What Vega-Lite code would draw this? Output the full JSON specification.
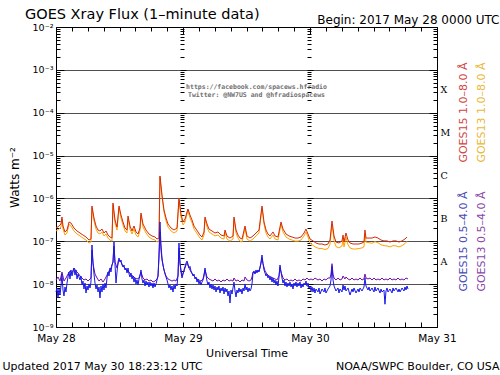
{
  "$schema": "https://vega.github.io/schema/vega-lite/v6.json",
  "width": 381,
  "height": 300,
  "autosize": "none",
  "padding": {"left": 56, "top": 27, "right": 63, "bottom": 48},
  "background": "white",
  "title": {"text": "GOES Xray Flux (1–minute data)", "anchor": "start", "frame": "group", "offset": 7, "dx": -31, "dy": 41, "baseline": "alphabetic", "fontSize": 14.5, "font": "DejaVu Sans", "fontWeight": "normal", "color": "#000"},
  "config": {
    "view": {"stroke": null},
    "font": "DejaVu Sans",
    "axis": {"labelFont": "DejaVu Sans", "titleFont": "DejaVu Sans", "titleFontWeight": "normal", "labelColor": "#000", "titleColor": "#000", "tickColor": "#000", "domainColor": "#000", "grid": false}
  },
  "datasets": {
    "goes15_long": [{"h":0,"v":2.04e-7},{"h":0.57,"v":2.27e-7},{"h":0.94,"v":2.53e-7},{"h":1.13,"v":3.69e-7},{"h":1.32,"v":2.27e-7},{"h":1.7,"v":1.65e-7},{"h":2.08,"v":1.83e-7},{"h":2.46,"v":2.82e-7},{"h":2.83,"v":2.67e-7},{"h":3.4,"v":2.04e-7},{"h":3.97,"v":1.74e-7},{"h":4.54,"v":1.56e-7},{"h":5.1,"v":1.4e-7},{"h":5.67,"v":1.26e-7},{"h":6.24,"v":1.07e-7},{"h":6.61,"v":1.13e-7},{"h":6.8,"v":6.66e-7},{"h":7.18,"v":3.49e-7},{"h":7.56,"v":2.27e-7},{"h":7.94,"v":1.83e-7},{"h":8.31,"v":1.74e-7},{"h":8.69,"v":1.93e-7},{"h":9.07,"v":1.56e-7},{"h":9.45,"v":1.74e-7},{"h":9.83,"v":1.4e-7},{"h":10.2,"v":1.26e-7},{"h":10.58,"v":1.19e-7},{"h":10.77,"v":7.82e-7},{"h":11.15,"v":3.14e-7},{"h":11.53,"v":2.15e-7},{"h":11.91,"v":6.66e-7},{"h":12.28,"v":4.1e-7},{"h":12.66,"v":2.82e-7},{"h":13.04,"v":2.04e-7},{"h":13.42,"v":1.83e-7},{"h":13.61,"v":3.89e-7},{"h":13.98,"v":2.27e-7},{"h":14.36,"v":1.74e-7},{"h":14.74,"v":2.27e-7},{"h":15.12,"v":1.65e-7},{"h":15.5,"v":1.48e-7},{"h":15.87,"v":2.04e-7},{"h":16.06,"v":4.57e-7},{"h":16.44,"v":2.53e-7},{"h":17.01,"v":1.83e-7},{"h":17.57,"v":1.48e-7},{"h":18.14,"v":1.33e-7},{"h":18.71,"v":1.26e-7},{"h":19.09,"v":1.13e-7},{"h":19.46,"v":1.19e-7},{"h":19.65,"v":3.34e-6},{"h":20.03,"v":1.2e-6},{"h":20.41,"v":5.37e-7},{"h":20.79,"v":3.49e-7},{"h":21.17,"v":2.53e-7},{"h":21.73,"v":2.04e-7},{"h":22.3,"v":1.83e-7},{"h":22.87,"v":2.04e-7},{"h":23.24,"v":1.02e-6},{"h":23.62,"v":4.33e-7},{"h":24,"v":2.82e-7},{"h":24.38,"v":3.31e-7},{"h":24.76,"v":4.82e-7},{"h":24.94,"v":5.67e-7},{"h":25.32,"v":4.1e-7},{"h":25.7,"v":3.14e-7},{"h":26.08,"v":2.27e-7},{"h":26.46,"v":1.93e-7},{"h":26.83,"v":1.65e-7},{"h":27.21,"v":1.4e-7},{"h":27.59,"v":1.26e-7},{"h":27.97,"v":1.65e-7},{"h":28.16,"v":3.69e-7},{"h":28.54,"v":2.53e-7},{"h":28.91,"v":1.93e-7},{"h":29.48,"v":1.74e-7},{"h":30.05,"v":1.56e-7},{"h":30.61,"v":1.65e-7},{"h":31.18,"v":1.4e-7},{"h":31.75,"v":1.33e-7},{"h":31.94,"v":1.83e-7},{"h":32.31,"v":1.33e-7},{"h":32.88,"v":1.19e-7},{"h":33.45,"v":1.33e-7},{"h":33.64,"v":3.69e-7},{"h":34.02,"v":1.83e-7},{"h":34.39,"v":1.4e-7},{"h":34.77,"v":1.19e-7},{"h":35.15,"v":1.13e-7},{"h":35.72,"v":2.27e-7},{"h":36.09,"v":1.33e-7},{"h":36.66,"v":1.19e-7},{"h":37.23,"v":1.33e-7},{"h":37.8,"v":1.56e-7},{"h":38.36,"v":1.83e-7},{"h":38.93,"v":6.66e-7},{"h":39.31,"v":2.82e-7},{"h":39.69,"v":1.83e-7},{"h":40.06,"v":1.48e-7},{"h":40.44,"v":1.33e-7},{"h":41.01,"v":1.65e-7},{"h":41.39,"v":1.33e-7},{"h":41.95,"v":1.26e-7},{"h":42.52,"v":2.82e-7},{"h":42.9,"v":1.93e-7},{"h":43.46,"v":1.48e-7},{"h":44.03,"v":1.33e-7},{"h":44.6,"v":1.26e-7},{"h":45.17,"v":1.19e-7},{"h":45.73,"v":1.19e-7},{"h":46.3,"v":1.26e-7},{"h":46.87,"v":1.56e-7},{"h":47.24,"v":1.93e-7},{"h":47.62,"v":1.48e-7},{"h":48,"v":1.13e-7},{"h":48.57,"v":1.02e-7},{"h":49.13,"v":9.12e-8},{"h":49.7,"v":8.64e-8},{"h":50.27,"v":8.64e-8},{"h":50.83,"v":8.19e-8},{"h":51.4,"v":8.64e-8},{"h":51.78,"v":1.07e-7},{"h":52.16,"v":2.97e-7},{"h":52.54,"v":1.33e-7},{"h":52.91,"v":9.62e-8},{"h":53.48,"v":9.12e-8},{"h":54.05,"v":1.02e-7},{"h":54.24,"v":1.4e-7},{"h":54.43,"v":9.62e-8},{"h":54.8,"v":1.56e-7},{"h":55.18,"v":1.07e-7},{"h":55.56,"v":9.12e-8},{"h":56.13,"v":8.64e-8},{"h":56.69,"v":8.64e-8},{"h":57.26,"v":8.64e-8},{"h":57.83,"v":9.12e-8},{"h":58.2,"v":9.62e-8},{"h":58.39,"v":1.83e-7},{"h":58.58,"v":1.19e-7},{"h":59.15,"v":1.19e-7},{"h":59.72,"v":1.19e-7},{"h":60.28,"v":1.26e-7},{"h":60.85,"v":1.19e-7},{"h":61.42,"v":1.07e-7},{"h":61.98,"v":1.02e-7},{"h":62.55,"v":1.02e-7},{"h":63.12,"v":9.62e-8},{"h":63.69,"v":1.02e-7},{"h":64.25,"v":1.02e-7},{"h":64.82,"v":9.62e-8},{"h":65.39,"v":1.02e-7},{"h":65.95,"v":1.13e-7},{"h":66.33,"v":1.26e-7}],
    "goes13_long": [{"h":0,"v":1.74e-7},{"h":0.57,"v":1.93e-7},{"h":0.94,"v":2.15e-7},{"h":1.13,"v":3.3e-7},{"h":1.32,"v":1.93e-7},{"h":1.7,"v":1.4e-7},{"h":2.08,"v":1.56e-7},{"h":2.46,"v":2.5e-7},{"h":2.83,"v":2.27e-7},{"h":3.4,"v":1.74e-7},{"h":3.97,"v":1.48e-7},{"h":4.54,"v":1.33e-7},{"h":5.1,"v":1.19e-7},{"h":5.67,"v":1.07e-7},{"h":6.24,"v":9.1e-8},{"h":6.61,"v":9.6e-8},{"h":6.8,"v":6.0e-7},{"h":7.18,"v":3.0e-7},{"h":7.56,"v":1.93e-7},{"h":7.94,"v":1.56e-7},{"h":8.31,"v":1.48e-7},{"h":8.69,"v":1.65e-7},{"h":9.07,"v":1.33e-7},{"h":9.45,"v":1.48e-7},{"h":9.83,"v":1.19e-7},{"h":10.2,"v":1.07e-7},{"h":10.58,"v":1.01e-7},{"h":10.77,"v":7.0e-7},{"h":11.15,"v":2.7e-7},{"h":11.53,"v":1.83e-7},{"h":11.91,"v":6.0e-7},{"h":12.28,"v":3.5e-7},{"h":12.66,"v":2.4e-7},{"h":13.04,"v":1.74e-7},{"h":13.42,"v":1.56e-7},{"h":13.61,"v":3.4e-7},{"h":13.98,"v":1.93e-7},{"h":14.36,"v":1.48e-7},{"h":14.74,"v":1.93e-7},{"h":15.12,"v":1.4e-7},{"h":15.5,"v":1.26e-7},{"h":15.87,"v":1.74e-7},{"h":16.06,"v":4.1e-7},{"h":16.44,"v":2.15e-7},{"h":17.01,"v":1.56e-7},{"h":17.57,"v":1.26e-7},{"h":18.14,"v":1.13e-7},{"h":18.71,"v":1.07e-7},{"h":19.09,"v":9.6e-8},{"h":19.46,"v":1.01e-7},{"h":19.65,"v":3.1e-6},{"h":20.03,"v":1.1e-6},{"h":20.41,"v":4.8e-7},{"h":20.79,"v":3.0e-7},{"h":21.17,"v":2.15e-7},{"h":21.73,"v":1.74e-7},{"h":22.3,"v":1.56e-7},{"h":22.87,"v":1.74e-7},{"h":23.24,"v":9.2e-7},{"h":23.62,"v":3.7e-7},{"h":24,"v":2.4e-7},{"h":24.38,"v":2.8e-7},{"h":24.76,"v":4.3e-7},{"h":24.94,"v":5.1e-7},{"h":25.32,"v":3.5e-7},{"h":25.7,"v":2.7e-7},{"h":26.08,"v":1.93e-7},{"h":26.46,"v":1.65e-7},{"h":26.83,"v":1.4e-7},{"h":27.21,"v":1.19e-7},{"h":27.59,"v":1.07e-7},{"h":27.97,"v":1.4e-7},{"h":28.16,"v":3.3e-7},{"h":28.54,"v":2.15e-7},{"h":28.91,"v":1.65e-7},{"h":29.48,"v":1.48e-7},{"h":30.05,"v":1.33e-7},{"h":30.61,"v":1.4e-7},{"h":31.18,"v":1.19e-7},{"h":31.75,"v":1.13e-7},{"h":31.94,"v":1.6e-7},{"h":32.31,"v":1.13e-7},{"h":32.88,"v":1.01e-7},{"h":33.45,"v":1.13e-7},{"h":33.64,"v":3.3e-7},{"h":34.02,"v":1.56e-7},{"h":34.39,"v":1.19e-7},{"h":34.77,"v":1.01e-7},{"h":35.15,"v":9.6e-8},{"h":35.72,"v":2.0e-7},{"h":36.09,"v":1.13e-7},{"h":36.66,"v":1.01e-7},{"h":37.23,"v":1.13e-7},{"h":37.8,"v":1.33e-7},{"h":38.36,"v":1.56e-7},{"h":38.93,"v":6.0e-7},{"h":39.31,"v":2.5e-7},{"h":39.69,"v":1.56e-7},{"h":40.06,"v":1.26e-7},{"h":40.44,"v":1.13e-7},{"h":41.01,"v":1.4e-7},{"h":41.39,"v":1.13e-7},{"h":41.95,"v":1.07e-7},{"h":42.52,"v":2.5e-7},{"h":42.9,"v":1.65e-7},{"h":43.46,"v":1.26e-7},{"h":44.03,"v":1.13e-7},{"h":44.6,"v":1.07e-7},{"h":45.17,"v":1.01e-7},{"h":45.73,"v":1.01e-7},{"h":46.3,"v":1.07e-7},{"h":46.87,"v":1.33e-7},{"h":47.24,"v":1.65e-7},{"h":47.62,"v":1.26e-7},{"h":48,"v":9.1e-8},{"h":48.57,"v":8.0e-8},{"h":49.13,"v":7.2e-8},{"h":49.7,"v":6.8e-8},{"h":50.27,"v":6.8e-8},{"h":50.83,"v":6.4e-8},{"h":51.4,"v":6.8e-8},{"h":51.78,"v":8.5e-8},{"h":52.16,"v":2.5e-7},{"h":52.54,"v":1.05e-7},{"h":52.91,"v":7.5e-8},{"h":53.48,"v":7.0e-8},{"h":54.05,"v":7.8e-8},{"h":54.24,"v":1.1e-7},{"h":54.43,"v":7.4e-8},{"h":54.8,"v":1.25e-7},{"h":55.18,"v":8.3e-8},{"h":55.56,"v":7.0e-8},{"h":56.13,"v":6.6e-8},{"h":56.69,"v":6.6e-8},{"h":57.26,"v":6.8e-8},{"h":57.83,"v":7.0e-8},{"h":58.2,"v":7.4e-8},{"h":58.39,"v":1.5e-7},{"h":58.58,"v":9.5e-8},{"h":59.15,"v":9.3e-8},{"h":59.72,"v":9.0e-8},{"h":60.28,"v":9.8e-8},{"h":60.85,"v":9.2e-8},{"h":61.42,"v":8.3e-8},{"h":61.98,"v":7.9e-8},{"h":62.55,"v":7.8e-8},{"h":63.12,"v":7.4e-8},{"h":63.69,"v":7.9e-8},{"h":64.25,"v":7.8e-8},{"h":64.82,"v":7.4e-8},{"h":65.39,"v":7.9e-8},{"h":65.95,"v":8.8e-8},{"h":66.33,"v":1.0e-7}],
    "goes15_short": [{"h":0,"v":6.56e-9},{"h":0.19,"v":8.13e-9},{"h":0.38,"v":4.75e-9},{"h":0.57,"v":7.7e-9},{"h":0.76,"v":5.58e-9},{"h":0.94,"v":9.05e-9},{"h":1.13,"v":1.72e-8},{"h":1.32,"v":7.3e-9},{"h":1.51,"v":5.29e-9},{"h":1.7,"v":8.58e-9},{"h":1.89,"v":6.56e-9},{"h":2.08,"v":1.06e-8},{"h":2.27,"v":1.47e-8},{"h":2.46,"v":1.92e-8},{"h":2.65,"v":1.32e-8},{"h":2.83,"v":2.14e-8},{"h":3.02,"v":1.55e-8},{"h":3.4,"v":2.38e-8},{"h":3.59,"v":1.63e-8},{"h":3.78,"v":2.14e-8},{"h":3.97,"v":1.32e-8},{"h":4.16,"v":1.72e-8},{"h":4.54,"v":1.25e-8},{"h":4.72,"v":1.55e-8},{"h":4.91,"v":9.55e-9},{"h":5.1,"v":1.18e-8},{"h":5.29,"v":7.7e-9},{"h":5.48,"v":1.06e-8},{"h":5.67,"v":6.21e-9},{"h":5.86,"v":9.05e-9},{"h":6.05,"v":7.3e-9},{"h":6.24,"v":1.01e-8},{"h":6.43,"v":8.13e-9},{"h":6.61,"v":1.12e-8},{"h":6.8,"v":8.19e-8},{"h":6.99,"v":3.29e-8},{"h":7.18,"v":1.72e-8},{"h":7.37,"v":1.06e-8},{"h":7.56,"v":7.7e-9},{"h":7.75,"v":9.55e-9},{"h":7.94,"v":6.56e-9},{"h":8.13,"v":8.58e-9},{"h":8.31,"v":4.75e-9},{"h":8.5,"v":9.05e-9},{"h":8.69,"v":6.56e-9},{"h":8.88,"v":1.01e-8},{"h":9.07,"v":7.3e-9},{"h":9.26,"v":1.06e-8},{"h":9.45,"v":8.13e-9},{"h":9.64,"v":1.39e-8},{"h":9.83,"v":1.92e-8},{"h":10.02,"v":1.55e-8},{"h":10.2,"v":2.38e-8},{"h":10.39,"v":1.92e-8},{"h":10.58,"v":2.8e-8},{"h":10.77,"v":3.29e-8},{"h":10.96,"v":9.62e-8},{"h":11.15,"v":2.8e-8},{"h":11.34,"v":1.06e-8},{"h":11.53,"v":1.92e-8},{"h":11.72,"v":3.29e-8},{"h":11.91,"v":4.07e-8},{"h":12.09,"v":3.29e-8},{"h":12.28,"v":3.66e-8},{"h":12.47,"v":2.8e-8},{"h":12.66,"v":2.51e-8},{"h":12.85,"v":2.8e-8},{"h":13.04,"v":2.14e-8},{"h":13.23,"v":2.38e-8},{"h":13.42,"v":1.82e-8},{"h":13.61,"v":2.38e-8},{"h":13.8,"v":1.72e-8},{"h":13.98,"v":1.47e-8},{"h":14.17,"v":1.82e-8},{"h":14.36,"v":1.32e-8},{"h":14.55,"v":1.55e-8},{"h":14.74,"v":1.12e-8},{"h":14.93,"v":1.39e-8},{"h":15.12,"v":1.01e-8},{"h":15.31,"v":1.25e-8},{"h":15.5,"v":9.55e-9},{"h":15.69,"v":1.32e-8},{"h":15.87,"v":1.55e-8},{"h":16.06,"v":2.14e-8},{"h":16.25,"v":1.32e-8},{"h":16.44,"v":1.06e-8},{"h":16.63,"v":1.25e-8},{"h":16.82,"v":9.05e-9},{"h":17.01,"v":1.18e-8},{"h":17.2,"v":9.55e-9},{"h":17.39,"v":1.12e-8},{"h":17.57,"v":8.58e-9},{"h":17.76,"v":1.12e-8},{"h":17.95,"v":9.05e-9},{"h":18.14,"v":1.06e-8},{"h":18.33,"v":8.13e-9},{"h":18.52,"v":1.06e-8},{"h":18.71,"v":8.58e-9},{"h":18.9,"v":1.01e-8},{"h":19.09,"v":1.25e-8},{"h":19.28,"v":1.55e-8},{"h":19.46,"v":4.79e-8},{"h":19.65,"v":2.82e-7},{"h":19.84,"v":8.19e-8},{"h":20.03,"v":4.07e-8},{"h":20.22,"v":2.8e-8},{"h":20.41,"v":2.14e-8},{"h":20.6,"v":1.72e-8},{"h":20.79,"v":1.47e-8},{"h":20.98,"v":1.25e-8},{"h":21.17,"v":1.01e-8},{"h":21.35,"v":8.13e-9},{"h":21.54,"v":9.55e-9},{"h":21.73,"v":7.3e-9},{"h":21.92,"v":9.05e-9},{"h":22.11,"v":6.56e-9},{"h":22.3,"v":9.55e-9},{"h":22.49,"v":7.7e-9},{"h":22.68,"v":1.01e-8},{"h":22.87,"v":9.05e-9},{"h":23.06,"v":1.63e-8},{"h":23.24,"v":9.12e-8},{"h":23.43,"v":3.29e-8},{"h":23.62,"v":1.92e-8},{"h":23.81,"v":1.39e-8},{"h":24,"v":1.72e-8},{"h":24.19,"v":2.14e-8},{"h":24.38,"v":2.6e-8},{"h":24.57,"v":3.1e-8},{"h":24.76,"v":3.47e-8},{"h":24.94,"v":2.95e-8},{"h":25.13,"v":2.38e-8},{"h":25.32,"v":2.6e-8},{"h":25.51,"v":2.03e-8},{"h":25.7,"v":1.82e-8},{"h":25.89,"v":1.55e-8},{"h":26.08,"v":1.72e-8},{"h":26.27,"v":1.32e-8},{"h":26.46,"v":1.47e-8},{"h":26.65,"v":1.12e-8},{"h":26.83,"v":1.32e-8},{"h":27.02,"v":1.01e-8},{"h":27.21,"v":1.18e-8},{"h":27.4,"v":9.55e-9},{"h":27.59,"v":1.12e-8},{"h":27.78,"v":1.25e-8},{"h":27.97,"v":1.55e-8},{"h":28.16,"v":2.38e-8},{"h":28.35,"v":1.63e-8},{"h":28.54,"v":1.18e-8},{"h":28.72,"v":9.55e-9},{"h":28.91,"v":1.12e-8},{"h":29.1,"v":8.13e-9},{"h":29.29,"v":1.01e-8},{"h":29.48,"v":7.7e-9},{"h":29.67,"v":9.55e-9},{"h":29.86,"v":7.3e-9},{"h":30.05,"v":9.05e-9},{"h":30.24,"v":6.56e-9},{"h":30.43,"v":8.58e-9},{"h":30.61,"v":7.3e-9},{"h":30.8,"v":9.05e-9},{"h":30.99,"v":6.21e-9},{"h":31.18,"v":8.13e-9},{"h":31.37,"v":6.92e-9},{"h":31.56,"v":8.58e-9},{"h":31.75,"v":5.89e-9},{"h":31.94,"v":8.13e-9},{"h":32.13,"v":6.56e-9},{"h":32.31,"v":7.7e-9},{"h":32.5,"v":5.29e-9},{"h":32.69,"v":6.92e-9},{"h":32.88,"v":3.63e-9},{"h":33.07,"v":7.3e-9},{"h":33.26,"v":5.89e-9},{"h":33.45,"v":8.13e-9},{"h":33.64,"v":1.12e-8},{"h":33.83,"v":6.92e-9},{"h":34.02,"v":5.01e-9},{"h":34.2,"v":7.3e-9},{"h":34.39,"v":6.21e-9},{"h":34.58,"v":8.13e-9},{"h":34.77,"v":6.56e-9},{"h":34.96,"v":7.7e-9},{"h":35.15,"v":5.89e-9},{"h":35.34,"v":8.13e-9},{"h":35.53,"v":6.92e-9},{"h":35.72,"v":1.01e-8},{"h":35.91,"v":7.3e-9},{"h":36.09,"v":8.58e-9},{"h":36.28,"v":6.56e-9},{"h":36.47,"v":8.13e-9},{"h":36.66,"v":6.92e-9},{"h":36.85,"v":7.7e-9},{"h":37.04,"v":1.01e-8},{"h":37.23,"v":1.82e-8},{"h":37.42,"v":2.03e-8},{"h":37.61,"v":1.72e-8},{"h":37.8,"v":2.14e-8},{"h":37.98,"v":1.82e-8},{"h":38.17,"v":2.14e-8},{"h":38.36,"v":1.92e-8},{"h":38.55,"v":2.38e-8},{"h":38.74,"v":3.29e-8},{"h":38.93,"v":4.79e-8},{"h":39.12,"v":3.0e-8},{"h":39.31,"v":2.14e-8},{"h":39.5,"v":1.82e-8},{"h":39.69,"v":1.55e-8},{"h":39.87,"v":1.72e-8},{"h":40.06,"v":1.39e-8},{"h":40.25,"v":1.55e-8},{"h":40.44,"v":1.25e-8},{"h":40.63,"v":1.47e-8},{"h":40.82,"v":1.12e-8},{"h":41.01,"v":1.39e-8},{"h":41.2,"v":1.06e-8},{"h":41.39,"v":1.25e-8},{"h":41.57,"v":9.55e-9},{"h":41.76,"v":1.18e-8},{"h":41.95,"v":9.05e-9},{"h":42.14,"v":1.47e-8},{"h":42.33,"v":2.8e-8},{"h":42.52,"v":1.92e-8},{"h":42.71,"v":1.39e-8},{"h":42.9,"v":1.06e-8},{"h":43.09,"v":1.25e-8},{"h":43.28,"v":9.05e-9},{"h":43.46,"v":1.12e-8},{"h":43.65,"v":8.58e-9},{"h":43.84,"v":1.06e-8},{"h":44.03,"v":9.05e-9},{"h":44.22,"v":1.12e-8},{"h":44.41,"v":8.58e-9},{"h":44.6,"v":1.01e-8},{"h":44.79,"v":7.7e-9},{"h":44.98,"v":1.06e-8},{"h":45.17,"v":9.05e-9},{"h":45.35,"v":1.12e-8},{"h":45.54,"v":8.58e-9},{"h":45.73,"v":1.06e-8},{"h":45.92,"v":9.05e-9},{"h":46.11,"v":1.12e-8},{"h":46.3,"v":8.13e-9},{"h":46.49,"v":1.01e-8},{"h":46.68,"v":8.58e-9},{"h":46.87,"v":1.06e-8},{"h":47.06,"v":9.55e-9},{"h":47.24,"v":1.18e-8},{"h":47.43,"v":9.05e-9},{"h":47.62,"v":1.06e-8},{"h":47.81,"v":8.13e-9},{"h":48,"v":9.05e-9},{"h":48.19,"v":6.92e-9},{"h":48.38,"v":8.58e-9},{"h":48.57,"v":6.56e-9},{"h":48.76,"v":8.13e-9},{"h":48.94,"v":6.21e-9},{"h":49.13,"v":7.7e-9},{"h":49.51,"v":6.56e-9},{"h":49.7,"v":8.13e-9},{"h":49.89,"v":5.89e-9},{"h":50.27,"v":7.7e-9},{"h":50.65,"v":6.56e-9},{"h":50.83,"v":8.13e-9},{"h":51.02,"v":6.21e-9},{"h":51.4,"v":7.7e-9},{"h":51.78,"v":9.05e-9},{"h":51.97,"v":1.25e-8},{"h":52.16,"v":2.6e-8},{"h":52.35,"v":1.25e-8},{"h":52.54,"v":9.05e-9},{"h":52.91,"v":6.92e-9},{"h":53.29,"v":8.13e-9},{"h":53.48,"v":6.21e-9},{"h":53.67,"v":7.7e-9},{"h":54.05,"v":6.56e-9},{"h":54.24,"v":9.55e-9},{"h":54.43,"v":7.3e-9},{"h":54.61,"v":9.05e-9},{"h":54.8,"v":6.92e-9},{"h":55.18,"v":8.13e-9},{"h":55.56,"v":5.58e-9},{"h":55.94,"v":7.7e-9},{"h":56.13,"v":6.56e-9},{"h":56.31,"v":8.13e-9},{"h":56.69,"v":6.21e-9},{"h":57.07,"v":7.7e-9},{"h":57.26,"v":6.56e-9},{"h":57.45,"v":8.13e-9},{"h":57.83,"v":6.92e-9},{"h":58.2,"v":8.58e-9},{"h":58.39,"v":1.39e-8},{"h":58.58,"v":9.05e-9},{"h":58.96,"v":7.3e-9},{"h":59.15,"v":8.58e-9},{"h":59.34,"v":6.92e-9},{"h":59.72,"v":8.13e-9},{"h":60.09,"v":6.56e-9},{"h":60.28,"v":8.58e-9},{"h":60.47,"v":6.92e-9},{"h":60.85,"v":8.13e-9},{"h":61.23,"v":6.21e-9},{"h":61.42,"v":7.7e-9},{"h":61.61,"v":6.56e-9},{"h":61.98,"v":7.3e-9},{"h":62.17,"v":3.4e-9},{"h":62.36,"v":6.92e-9},{"h":62.55,"v":8.13e-9},{"h":62.74,"v":6.56e-9},{"h":63.12,"v":7.7e-9},{"h":63.5,"v":6.21e-9},{"h":63.69,"v":8.13e-9},{"h":63.87,"v":6.92e-9},{"h":64.25,"v":8.13e-9},{"h":64.63,"v":6.56e-9},{"h":64.82,"v":7.7e-9},{"h":65.01,"v":6.56e-9},{"h":65.39,"v":8.13e-9},{"h":65.76,"v":6.92e-9},{"h":65.95,"v":8.58e-9},{"h":66.14,"v":7.3e-9},{"h":66.33,"v":9.05e-9},{"h":66.52,"v":7.7e-9}],
    "goes13_short": [{"h":0,"v":1.25e-8},{"h":0.38,"v":1.47e-8},{"h":0.76,"v":1.18e-8},{"h":1.13,"v":1.92e-8},{"h":1.51,"v":1.18e-8},{"h":1.89,"v":1.39e-8},{"h":2.27,"v":1.72e-8},{"h":2.65,"v":2.03e-8},{"h":3.02,"v":1.82e-8},{"h":3.4,"v":2.38e-8},{"h":3.78,"v":2.03e-8},{"h":4.16,"v":1.82e-8},{"h":4.54,"v":1.55e-8},{"h":4.91,"v":1.39e-8},{"h":5.29,"v":1.25e-8},{"h":5.67,"v":1.32e-8},{"h":6.05,"v":1.18e-8},{"h":6.43,"v":1.32e-8},{"h":6.61,"v":1.39e-8},{"h":6.8,"v":6.26e-8},{"h":6.99,"v":3.0e-8},{"h":7.37,"v":1.72e-8},{"h":7.75,"v":1.39e-8},{"h":8.13,"v":1.18e-8},{"h":8.5,"v":1.32e-8},{"h":8.88,"v":1.12e-8},{"h":9.26,"v":1.32e-8},{"h":9.64,"v":1.63e-8},{"h":10.02,"v":2.03e-8},{"h":10.39,"v":2.38e-8},{"h":10.77,"v":3.29e-8},{"h":10.96,"v":7.76e-8},{"h":11.15,"v":3.29e-8},{"h":11.53,"v":2.38e-8},{"h":11.91,"v":3.66e-8},{"h":12.28,"v":3.29e-8},{"h":12.66,"v":2.6e-8},{"h":13.04,"v":2.38e-8},{"h":13.42,"v":2.03e-8},{"h":13.8,"v":1.92e-8},{"h":14.17,"v":1.63e-8},{"h":14.55,"v":1.55e-8},{"h":14.93,"v":1.39e-8},{"h":15.31,"v":1.32e-8},{"h":15.69,"v":1.39e-8},{"h":16.06,"v":1.92e-8},{"h":16.44,"v":1.39e-8},{"h":16.82,"v":1.25e-8},{"h":17.2,"v":1.32e-8},{"h":17.57,"v":1.18e-8},{"h":17.95,"v":1.25e-8},{"h":18.33,"v":1.12e-8},{"h":18.71,"v":1.18e-8},{"h":19.09,"v":1.32e-8},{"h":19.28,"v":1.55e-8},{"h":19.46,"v":4.07e-8},{"h":19.65,"v":1.65e-7},{"h":19.84,"v":6.26e-8},{"h":20.03,"v":3.66e-8},{"h":20.41,"v":2.14e-8},{"h":20.79,"v":1.55e-8},{"h":21.17,"v":1.32e-8},{"h":21.54,"v":1.25e-8},{"h":21.92,"v":1.18e-8},{"h":22.3,"v":1.25e-8},{"h":22.68,"v":1.18e-8},{"h":23.06,"v":1.55e-8},{"h":23.24,"v":6.97e-8},{"h":23.43,"v":3.0e-8},{"h":23.81,"v":1.55e-8},{"h":24.19,"v":2.03e-8},{"h":24.57,"v":2.8e-8},{"h":24.76,"v":3.1e-8},{"h":25.13,"v":2.38e-8},{"h":25.51,"v":1.92e-8},{"h":25.89,"v":1.63e-8},{"h":26.27,"v":1.47e-8},{"h":26.65,"v":1.32e-8},{"h":27.02,"v":1.25e-8},{"h":27.4,"v":1.18e-8},{"h":27.78,"v":1.32e-8},{"h":28.16,"v":2.14e-8},{"h":28.54,"v":1.47e-8},{"h":28.91,"v":1.32e-8},{"h":29.29,"v":1.25e-8},{"h":29.67,"v":1.18e-8},{"h":30.05,"v":1.32e-8},{"h":30.43,"v":1.18e-8},{"h":30.8,"v":1.25e-8},{"h":31.18,"v":1.12e-8},{"h":31.56,"v":1.25e-8},{"h":31.94,"v":1.18e-8},{"h":32.31,"v":1.32e-8},{"h":32.69,"v":1.18e-8},{"h":33.07,"v":1.25e-8},{"h":33.45,"v":1.18e-8},{"h":33.64,"v":1.39e-8},{"h":34.02,"v":1.18e-8},{"h":34.39,"v":1.25e-8},{"h":34.77,"v":1.12e-8},{"h":35.15,"v":1.25e-8},{"h":35.53,"v":1.18e-8},{"h":35.72,"v":1.47e-8},{"h":36.09,"v":1.25e-8},{"h":36.47,"v":1.18e-8},{"h":36.85,"v":1.25e-8},{"h":37.04,"v":1.47e-8},{"h":37.23,"v":1.92e-8},{"h":37.61,"v":1.82e-8},{"h":37.98,"v":2.03e-8},{"h":38.36,"v":2.03e-8},{"h":38.74,"v":3.0e-8},{"h":38.93,"v":4.07e-8},{"h":39.12,"v":3.0e-8},{"h":39.5,"v":2.03e-8},{"h":39.87,"v":1.72e-8},{"h":40.25,"v":1.55e-8},{"h":40.63,"v":1.47e-8},{"h":41.01,"v":1.39e-8},{"h":41.39,"v":1.32e-8},{"h":41.76,"v":1.25e-8},{"h":42.14,"v":1.55e-8},{"h":42.33,"v":2.51e-8},{"h":42.52,"v":1.92e-8},{"h":42.9,"v":1.39e-8},{"h":43.28,"v":1.25e-8},{"h":43.65,"v":1.32e-8},{"h":44.03,"v":1.18e-8},{"h":44.41,"v":1.25e-8},{"h":44.79,"v":1.18e-8},{"h":45.17,"v":1.32e-8},{"h":45.54,"v":1.18e-8},{"h":45.92,"v":1.25e-8},{"h":46.3,"v":1.18e-8},{"h":46.68,"v":1.32e-8},{"h":47.06,"v":1.25e-8},{"h":47.43,"v":1.39e-8},{"h":47.81,"v":1.25e-8},{"h":48.19,"v":1.32e-8},{"h":48.57,"v":1.25e-8},{"h":48.94,"v":1.39e-8},{"h":49.51,"v":1.25e-8},{"h":49.89,"v":1.32e-8},{"h":50.27,"v":1.18e-8},{"h":50.65,"v":1.32e-8},{"h":51.02,"v":1.25e-8},{"h":51.4,"v":1.39e-8},{"h":51.78,"v":1.39e-8},{"h":51.97,"v":1.72e-8},{"h":52.16,"v":3.0e-8},{"h":52.35,"v":1.72e-8},{"h":52.54,"v":1.39e-8},{"h":52.91,"v":1.25e-8},{"h":53.29,"v":1.39e-8},{"h":53.67,"v":1.25e-8},{"h":54.05,"v":1.32e-8},{"h":54.24,"v":1.55e-8},{"h":54.61,"v":1.32e-8},{"h":54.8,"v":1.47e-8},{"h":55.18,"v":1.32e-8},{"h":55.56,"v":1.25e-8},{"h":55.94,"v":1.39e-8},{"h":56.31,"v":1.25e-8},{"h":56.69,"v":1.32e-8},{"h":57.07,"v":1.25e-8},{"h":57.45,"v":1.39e-8},{"h":57.83,"v":1.25e-8},{"h":58.2,"v":1.32e-8},{"h":58.39,"v":1.72e-8},{"h":58.58,"v":1.39e-8},{"h":58.96,"v":1.32e-8},{"h":59.34,"v":1.39e-8},{"h":59.72,"v":1.25e-8},{"h":60.09,"v":1.39e-8},{"h":60.47,"v":1.25e-8},{"h":60.85,"v":1.32e-8},{"h":61.23,"v":1.25e-8},{"h":61.61,"v":1.39e-8},{"h":61.98,"v":1.25e-8},{"h":62.36,"v":1.32e-8},{"h":62.74,"v":1.25e-8},{"h":63.12,"v":1.39e-8},{"h":63.5,"v":1.25e-8},{"h":63.87,"v":1.32e-8},{"h":64.25,"v":1.25e-8},{"h":64.63,"v":1.39e-8},{"h":65.01,"v":1.25e-8},{"h":65.39,"v":1.32e-8},{"h":65.76,"v":1.25e-8},{"h":66.14,"v":1.39e-8},{"h":66.52,"v":1.32e-8}]
  },
  "resolve": {"axis": {"x": "independent", "y": "independent"}},
  "layer": [
    {
      "data": {"name": "goes13_long"},
      "mark": {"type": "line", "color": "#ffa200", "strokeWidth": 1},
      "encoding": {
        "x": {"field": "h", "type": "quantitative", "scale": {"domain": [0, 72], "nice": false, "zero": false},
          "axis": {"orient": "bottom", "values": [0,3,6,9,12,15,18,21,24,27,30,33,36,39,42,45,48,51,54,57,60,63,66,69,72],
            "labelExpr": "datum.value % 24 == 0 ? 'May ' + (28 + datum.value/24) : ''",
            "tickSize": -5, "labelPadding": 11, "labelFontSize": 10.5, "labelFlush": false, "labelOverlap": false, "labelBound": false,
            "title": "Universal Time", "titleFontSize": 11, "titleX": 190.5, "titleY": 29, "titleAlign": "center", "titleBaseline": "alphabetic"}},
        "y": {"field": "v", "type": "quantitative", "scale": {"type": "log", "domain": [1e-9, 1e-2], "nice": false},
          "axis": {"orient": "left",
            "values": [1e-9,2e-9,3e-9,4e-9,5e-9,6e-9,7e-9,8e-9,9e-9,1e-8,2e-8,3e-8,4e-8,5e-8,6e-8,7e-8,8e-8,9e-8,1e-7,2e-7,3e-7,4e-7,5e-7,6e-7,7e-7,8e-7,9e-7,1e-6,2e-6,3e-6,4e-6,5e-6,6e-6,7e-6,8e-6,9e-6,1e-5,2e-5,3e-5,4e-5,5e-5,6e-5,7e-5,8e-5,9e-5,1e-4,2e-4,3e-4,4e-4,5e-4,6e-4,7e-4,8e-4,9e-4,1e-3,2e-3,3e-3,4e-3,5e-3,6e-3,7e-3,8e-3,9e-3,1e-2],
            "labelExpr": "abs(log(datum.value)/LN10 - round(log(datum.value)/LN10)) < 0.01 ? ['10⁻²','10⁻³','10⁻⁴','10⁻⁵','10⁻⁶','10⁻⁷','10⁻⁸','10⁻⁹'][round(-log(datum.value)/LN10) - 2] : ''",
            "labelOverlap": false, "labelFlush": false, "labelBound": false, "labelFontSize": 9.5, "labelPadding": 11,
            "tickSize": {"condition": {"test": "abs(log(datum.value)/LN10 - round(log(datum.value)/LN10)) < 0.01", "value": -8}, "value": -4},
            "grid": true, "gridColor": "#505050",
            "gridOpacity": {"condition": {"test": "abs(log(datum.value)/LN10 - round(log(datum.value)/LN10)) < 0.01", "value": 1}, "value": 0},
            "title": "Watts m⁻²", "titleFontSize": 12, "titleAngle": 270, "titleX": -42, "titleY": 150, "titleAlign": "center", "titleBaseline": "middle"}}
      }
    },
    {
      "data": {"name": "goes15_long"},
      "mark": {"type": "line", "color": "#d42a0a", "strokeWidth": 1},
      "encoding": {
        "x": {"field": "h", "type": "quantitative", "scale": {"domain": [0, 72], "nice": false, "zero": false},
          "axis": {"orient": "top", "values": [0,3,6,9,12,15,18,21,24,27,30,33,36,39,42,45,48,51,54,57,60,63,66,69,72], "labels": false,
            "tickSize": {"condition": {"test": "datum.value % 24 == 0", "value": -7}, "value": -4},
            "title": "Begin:  2017 May 28 0000 UTC", "titleFontSize": 12, "titleX": 443, "titleY": -4, "titleAlign": "right", "titleBaseline": "alphabetic"}},
        "y": {"field": "v", "type": "quantitative", "scale": {"type": "log", "domain": [1e-9, 1e-2], "nice": false},
          "axis": {"orient": "right",
            "values": [1e-9,2e-9,3e-9,4e-9,5e-9,6e-9,7e-9,8e-9,9e-9,1e-8,2e-8,3e-8,4e-8,5e-8,6e-8,7e-8,8e-8,9e-8,1e-7,2e-7,3e-7,4e-7,5e-7,6e-7,7e-7,8e-7,9e-7,1e-6,2e-6,3e-6,4e-6,5e-6,6e-6,7e-6,8e-6,9e-6,1e-5,2e-5,3e-5,4e-5,5e-5,6e-5,7e-5,8e-5,9e-5,1e-4,2e-4,3e-4,4e-4,5e-4,6e-4,7e-4,8e-4,9e-4,1e-3,2e-3,3e-3,4e-3,5e-3,6e-3,7e-3,8e-3,9e-3,1e-2],
            "labelExpr": "abs(log(datum.value)/LN10 - round(log(datum.value)/LN10)) < 0.01 ? (['X','M','C','B','A'][round(-log(datum.value)/LN10) - 4] || '') : ''",
            "labelOverlap": false, "labelFlush": false, "labelBound": false, "labelFont": "DejaVu Serif", "labelFontSize": 9.5, "labelPadding": 11, "labelOffset": -23,
            "tickSize": {"condition": {"test": "abs(log(datum.value)/LN10 - round(log(datum.value)/LN10)) < 0.01", "value": -8}, "value": -4},
            "title": "GOES15 1.0–8.0 Å", "titleColor": "#d04545", "titleFontSize": 11, "titleAngle": 270, "titleX": 26, "titleY": 85, "titleAlign": "center", "titleBaseline": "middle"}}
      }
    },
    {
      "data": {"name": "goes13_short"},
      "mark": {"type": "line", "color": "#7010a8", "strokeWidth": 1},
      "encoding": {
        "x": {"field": "h", "type": "quantitative", "scale": {"domain": [0, 72], "nice": false, "zero": false},
          "axis": {"orient": "bottom", "domain": false, "ticks": false, "labels": false,
            "title": "Updated 2017 May 30 18:23:12 UTC", "titleFontSize": 11, "titleX": -54, "titleY": 42, "titleAlign": "left", "titleBaseline": "alphabetic"}},
        "y": {"field": "v", "type": "quantitative", "scale": {"type": "log", "domain": [1e-9, 1e-2], "nice": false},
          "axis": {"orient": "right", "domain": false, "ticks": false, "labels": false,
            "title": "GOES13 0.5–4.0 Å", "titleColor": "#8a45a8", "titleFontSize": 11, "titleAngle": 270, "titleX": 44, "titleY": 214, "titleAlign": "center", "titleBaseline": "middle"}}
      }
    },
    {
      "data": {"name": "goes15_short"},
      "mark": {"type": "line", "color": "#1818e8", "strokeWidth": 1},
      "encoding": {
        "x": {"field": "h", "type": "quantitative", "scale": {"domain": [0, 72], "nice": false, "zero": false},
          "axis": {"orient": "bottom", "domain": false, "ticks": false, "labels": false,
            "title": "NOAA/SWPC Boulder, CO USA", "titleFontSize": 11, "titleX": 443, "titleY": 42, "titleAlign": "right", "titleBaseline": "alphabetic"}},
        "y": {"field": "v", "type": "quantitative", "scale": {"type": "log", "domain": [1e-9, 1e-2], "nice": false},
          "axis": {"orient": "right", "domain": false, "ticks": false, "labels": false,
            "title": "GOES15 0.5–4.0 Å", "titleColor": "#4a4ab4", "titleFontSize": 11, "titleAngle": 270, "titleX": 26, "titleY": 214, "titleAlign": "center", "titleBaseline": "middle"}}
      }
    },
    {
      "data": {"values": [{}]},
      "mark": {"type": "rule", "strokeOpacity": 0},
      "encoding": {
        "x": {"datum": 24, "type": "quantitative", "axis": null},
        "y": {"datum": 1e-9, "type": "quantitative",
          "axis": {"orient": "right", "offset": -257, "domain": false, "labels": false,
            "values": [1e-9,2e-9,3e-9,4e-9,5e-9,6e-9,7e-9,8e-9,9e-9,1e-8,2e-8,3e-8,4e-8,5e-8,6e-8,7e-8,8e-8,9e-8,1e-7,2e-7,3e-7,4e-7,5e-7,6e-7,7e-7,8e-7,9e-7,1e-6,2e-6,3e-6,4e-6,5e-6,6e-6,7e-6,8e-6,9e-6,1e-5,2e-5,3e-5,4e-5,5e-5,6e-5,7e-5,8e-5,9e-5,1e-4,2e-4,3e-4,4e-4,5e-4,6e-4,7e-4,8e-4,9e-4,1e-3,2e-3,3e-3,4e-3,5e-3,6e-3,7e-3,8e-3,9e-3,1e-2],
            "tickSize": {"condition": {"test": "abs(log(datum.value)/LN10 - round(log(datum.value)/LN10)) < 0.01", "value": 6}, "value": 4},
            "title": "GOES13 1.0–8.0 Å", "titleColor": "#e8b838", "titleFontSize": 11, "titleAngle": 270, "titleX": 301, "titleY": 85, "titleAlign": "center", "titleBaseline": "middle"}},
        "y2": {"datum": 1e-2}
      }
    },
    {
      "data": {"values": [{}]},
      "mark": {"type": "rule", "strokeOpacity": 0},
      "encoding": {
        "x": {"datum": 48, "type": "quantitative", "axis": null},
        "y": {"datum": 1e-9, "type": "quantitative",
          "axis": {"orient": "right", "offset": -130, "domain": false, "labels": false,
            "values": [1e-9,2e-9,3e-9,4e-9,5e-9,6e-9,7e-9,8e-9,9e-9,1e-8,2e-8,3e-8,4e-8,5e-8,6e-8,7e-8,8e-8,9e-8,1e-7,2e-7,3e-7,4e-7,5e-7,6e-7,7e-7,8e-7,9e-7,1e-6,2e-6,3e-6,4e-6,5e-6,6e-6,7e-6,8e-6,9e-6,1e-5,2e-5,3e-5,4e-5,5e-5,6e-5,7e-5,8e-5,9e-5,1e-4,2e-4,3e-4,4e-4,5e-4,6e-4,7e-4,8e-4,9e-4,1e-3,2e-3,3e-3,4e-3,5e-3,6e-3,7e-3,8e-3,9e-3,1e-2],
            "tickSize": {"condition": {"test": "abs(log(datum.value)/LN10 - round(log(datum.value)/LN10)) < 0.01", "value": 6}, "value": 4},
            "title": ["https://facebook.com/spacews.hfradio", "Twitter:  @NW7US  and  @hfradiospacews"],
            "titleFont": "DejaVu Sans Mono", "titleFontSize": 6.5, "titleFontWeight": "bold", "titleColor": "#707070", "titleLineHeight": 8,
            "titleAngle": 0, "titleX": -51, "titleY": 61, "titleAlign": "center", "titleBaseline": "alphabetic"}},
        "y2": {"datum": 1e-2}
      }
    }
  ]
}
